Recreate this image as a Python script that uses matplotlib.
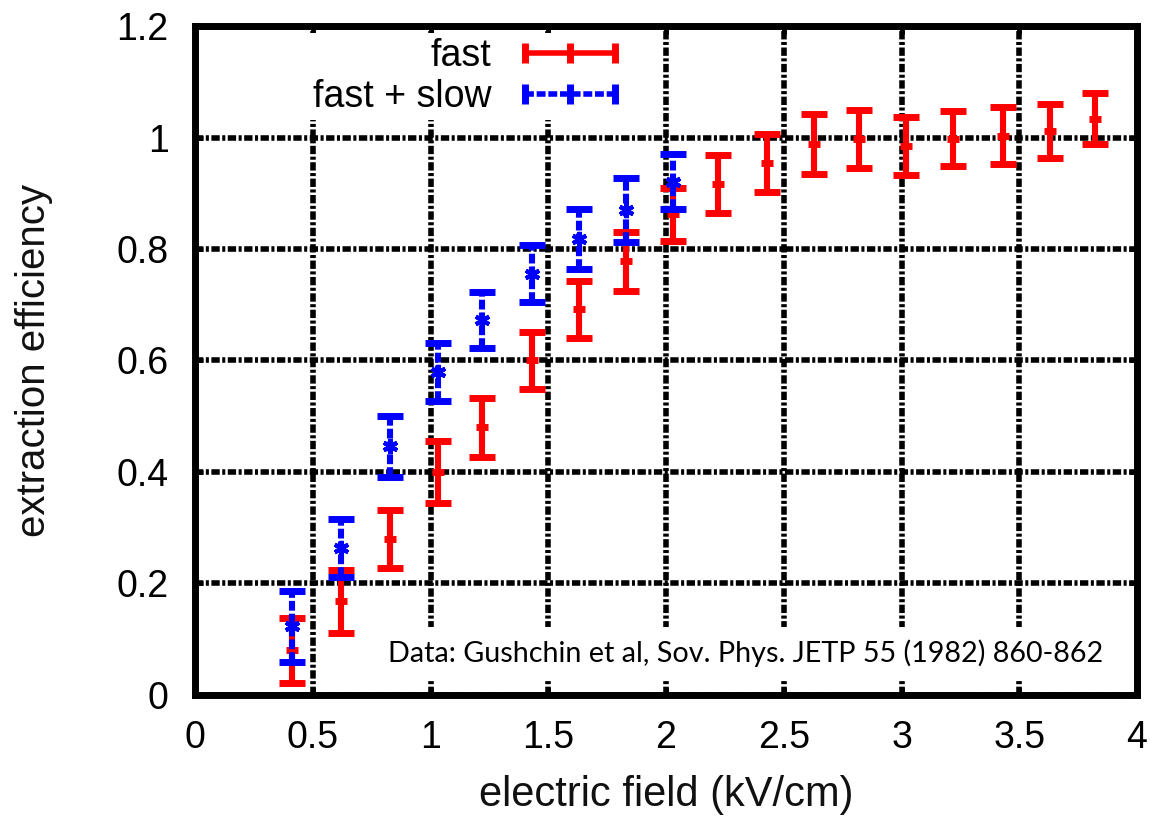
import matplotlib
matplotlib.use("Agg")
import matplotlib.pyplot as plt
from matplotlib.lines import Line2D

# data (Gushchin et al 1982)
field_fast = [0.41, 0.62, 0.83, 1.03, 1.22, 1.43, 1.63, 1.83, 2.03,
              2.22, 2.43, 2.63, 2.82, 3.02, 3.22, 3.43, 3.63, 3.82]
eff_fast = [0.080, 0.168, 0.280, 0.400, 0.480, 0.600, 0.692, 0.778, 0.862,
            0.916, 0.955, 0.989, 0.998, 0.985, 0.998, 1.003, 1.012, 1.034]
err_fast = [0.058, 0.057, 0.052, 0.055, 0.053, 0.051, 0.051, 0.053, 0.048,
            0.052, 0.052, 0.054, 0.052, 0.052, 0.049, 0.051, 0.048, 0.046]

field_slow = [0.41, 0.62, 0.83, 1.03, 1.22, 1.43, 1.63, 1.83, 2.03]
eff_slow = [0.123, 0.264, 0.446, 0.580, 0.672, 0.756, 0.818, 0.870, 0.921]
err_slow = [0.063, 0.052, 0.055, 0.052, 0.050, 0.051, 0.053, 0.058, 0.050]

x_ticks = [0, 0.5, 1, 1.5, 2, 2.5, 3, 3.5, 4]
x_labels = ['0', '0.5', '1', '1.5', '2', '2.5', '3', '3.5', '4']
y_ticks = [0, 0.2, 0.4, 0.6, 0.8, 1.0, 1.2]
y_labels = ['0', '0.2', '0.4', '0.6', '0.8', '1', '1.2']

plt.rcParams['font.family'] = ['Liberation Sans', 'DejaVu Sans']

fig = plt.figure(figsize=(11.5, 8.18), dpi=100)
ax = fig.add_axes([0.1696, 0.1504, 0.8191, 0.8178])

# fast
ax.errorbar(field_fast, eff_fast, yerr=err_fast, fmt='none', ecolor='red',
            elinewidth=4.4, capsize=9.5, capthick=5, zorder=3)
ax.plot(field_fast, eff_fast, ls='none', marker='_', ms=8, mew=5,
        color='red', zorder=3)

# fast + slow
eb = ax.errorbar(field_slow, eff_slow, yerr=err_slow, fmt='none', ecolor='blue',
                 elinewidth=4.4, capsize=9.5, capthick=5, zorder=4)
eb[2][0].set_linestyle((0, (1.6, 0.5)))
ax.plot(field_slow, eff_slow, ls='none', marker=(6, 2, 0), ms=11, mew=3,
        color='blue', zorder=4)

ax.set_xlim(0, 4)
ax.set_ylim(0, 1.2)
ax.set_xticks(x_ticks)
ax.set_xticklabels(x_labels)
ax.set_yticks(y_ticks)
ax.set_yticklabels(y_labels)
ax.tick_params(direction='in', length=6, width=3.5, labelsize=27,
               top=True, right=True)
ax.tick_params(axis='x', pad=18)
ax.tick_params(axis='y', pad=19)

for s in ax.spines.values():
    s.set_linewidth(5)

ax.grid(True, color='black', linewidth=4, linestyle=(0, (1.5, 0.45, 0.55, 0.45)))
ax.set_axisbelow(True)

ax.set_xlabel('electric field (kV/cm)', fontsize=30, color='#111111', labelpad=14)
ax.set_ylabel('extraction efficiency', fontsize=29, color='#111111', labelpad=46)

handles = [
    Line2D([0], [0], color='red', lw=4, marker='|', ms=14, mew=5),
    Line2D([0], [0], color='blue', lw=4, ls=(0, (1.6, 0.5)), marker='|', ms=14, mew=5),
]
leg = ax.legend(handles, ['fast', 'fast + slow'], loc='upper right',
                bbox_to_anchor=(0.464, 0.99), frameon=True, fontsize=27,
                markerfirst=False, numpoints=3, handlelength=3.0,
                handletextpad=0.6, labelspacing=0.12, borderpad=0.15,
                borderaxespad=0, fancybox=False)
leg.get_frame().set_facecolor('white')
leg.get_frame().set_edgecolor('none')
leg.get_frame().set_alpha(1)

ax.text(0.2045, 0.063, 'Data: Gushchin et al, Sov. Phys. JETP 55 (1982) 860-862',
        transform=ax.transAxes, fontsize=20.7, family=['Lato', 'DejaVu Sans'],
        ha='left', va='center', zorder=10,
        bbox=dict(facecolor='white', edgecolor='none', pad=9))

fig.savefig('out.png', dpi=100)
